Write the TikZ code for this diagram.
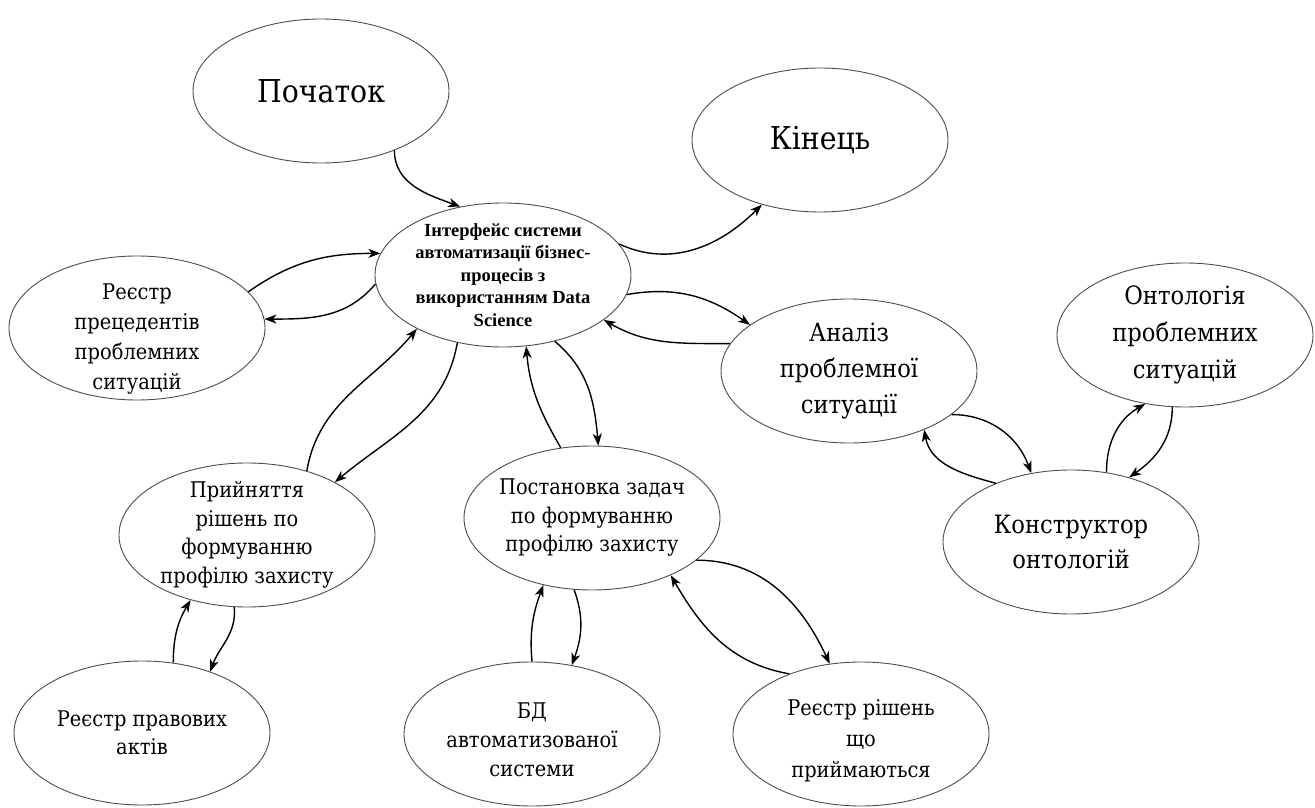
\documentclass[tikz,border=0pt]{standalone}
\usepackage{fontspec}
\setmainfont{DejaVu Serif Condensed}[Scale=0.9]
\newfontfamily\ifacefont{Liberation Serif Bold}
\usetikzlibrary{shapes.geometric,arrows.meta}
\begin{document}
\begin{tikzpicture}[x=1pt,y=1pt,
  el/.style={ellipse, draw=black!70, line width=0.9pt, minimum width=256pt, minimum height=144pt, inner sep=-30pt, align=center, font=\fontsize{24}{28.5}\selectfont},
  big/.style={font=\fontsize{35}{40}\selectfont},
  mid/.style={font=\fontsize{28}{36}\selectfont},
  small/.style={font=\ifacefont\fontsize{18.5}{22.5}\selectfont},
  con/.style={line width=1.4pt, -{Stealth[length=12pt,width=9pt,inset=3.5pt]}}]
\useasboundingbox (0,0) rectangle (1315,807);
\node[el,big] (start) at (321,716) {Початок};
\node[el,big] (end) at (820,667) {Кінець};
\node[el,small] (iface) at (503,532) {Інтерфейс системи\\автоматизації бізнес-\\процесів з\\використанням Data\\Science};
\node[el,font=\fontsize{24}{30}\selectfont] (prec) at (137,479) {\rule{0pt}{37pt}Реєстр\\прецедентів\\проблемних\\ситуацій};
\node[el,mid] (anal) at (849,436) {Аналіз\\проблемної\\ситуації};
\node[el,font=\fontsize{28}{37}\selectfont] (ont) at (1185,472) {Онтологія\\проблемних\\ситуацій};
\node[el,font=\fontsize{28}{35}\selectfont] (kons) at (1071,265) {Конструктор\\онтологій};
\node[el] (prin) at (247,272) {Прийняття\\рішень по\\формуванню\\профілю захисту};
\node[el] (post) at (592,289) {Постановка задач\\по формуванню\\профілю захисту};
\node[el] (prav) at (142,74) {Реєстр правових\\актів};
\node[el,font=\fontsize{24}{29}\selectfont] (bd) at (532,73) {\rule{0pt}{28pt}БД\\автоматизованої\\системи};
\node[el,font=\fontsize{24}{31}\selectfont] (rish) at (861,73) {\rule{0pt}{30pt}Реєстр рішень\\що\\приймаються};

\draw[con] (start.-39) to[out=-90,in=160] (iface.122);
\draw[con] (iface.15) to[out=-25,in=225] (end.228);
\draw[con] (iface.-9) to[out=10,in=145] (anal.155);
\draw[con] (anal.167) to[out=180,in=-30] (iface.-24);
\draw[con] (prec.18) to[out=35,in=180] (iface.170);
\draw[con] (iface.184) to[out=-130,in=0] (prec.4);
\draw[con] (prin.47) to[out=80,in=230] (iface.212);
\draw[con] (iface.-124) to[out=-100,in=40] (prin.31);
\draw[con] (post.114) to[out=120,in=-85] (iface.-72);
\draw[con] (iface.-52) to[out=-40,in=95] (post.85);
\draw[con] (anal.-23) to[out=0,in=110] (kons.120);
\draw[con] (kons.142) to[out=165,in=-80] (anal.-38);
\draw[con] (kons.63) to[out=90,in=210] (ont.-120);
\draw[con] (ont.-100) to[out=-90,in=35] (kons.48);
\draw[con] (post.-22) to[out=0,in=115] (rish.114);
\draw[con] (rish.140) to[out=170,in=-60] (post.-36);
\draw[con] (bd.90) to[out=95,in=250] (post.-126);
\draw[con] (post.-104) to[out=-70,in=70] (bd.60);
\draw[con] (prin.-100) to[out=-85,in=70] (prav.42);
\draw[con] (prav.66) to[out=90,in=240] (prin.-131);
\end{tikzpicture}
\end{document}
